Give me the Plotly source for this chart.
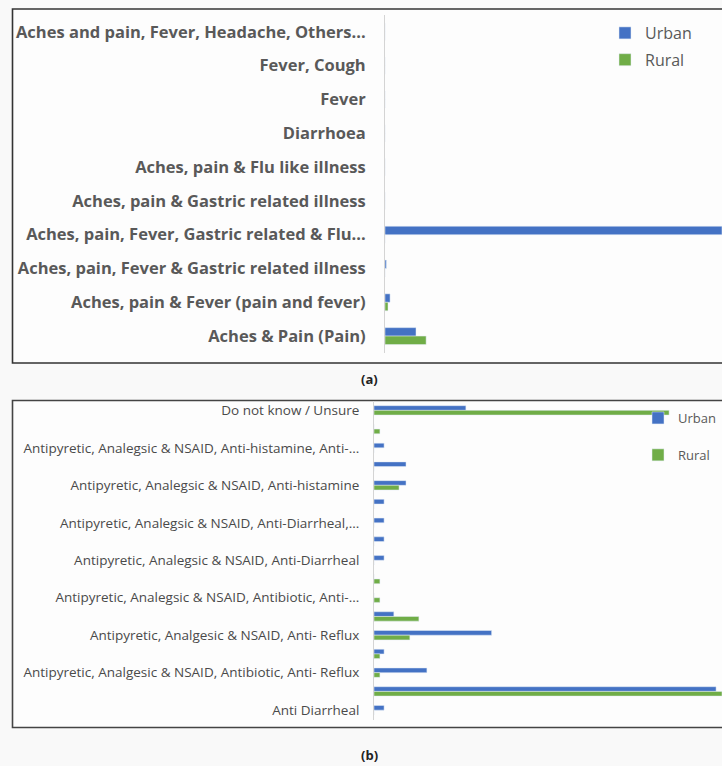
import plotly.graph_objects as go

# ---------------- Panel (a) data ----------------
a_categories = [
    "Aches and pain, Fever, Headache, Others...",
    "Fever, Cough",
    "Fever",
    "Diarrhoea",
    "Aches, pain & Flu like illness",
    "Aches, pain & Gastric related illness",
    "Aches, pain, Fever, Gastric related & Flu...",
    "Aches, pain, Fever & Gastric related illness",
    "Aches, pain & Fever (pain and fever)",
    "Aches & Pain (Pain)",
]
a_urban = [0, 0, 0, 0, 0, 0, 100, 0.4, 1.5, 9.2]
a_rural = [0, 0, 0, 0, 0, 0, 0, 0, 0.9, 12.2]

# ---------------- Panel (b) data ----------------
# Excel skipped every other category label; unreadable ones are None
b_categories = [
    "Do not know / Unsure",
    None,
    "Antipyretic, Analegsic & NSAID, Anti-histamine, Anti-...",
    None,
    "Antipyretic, Analegsic & NSAID, Anti-histamine",
    None,
    "Antipyretic, Analegsic & NSAID, Anti-Diarrheal,...",
    None,
    "Antipyretic, Analegsic & NSAID, Anti-Diarrheal",
    None,
    "Antipyretic, Analegsic & NSAID, Antibiotic, Anti-...",
    None,
    "Antipyretic, Analgesic & NSAID, Anti- Reflux",
    None,
    "Antipyretic, Analgesic & NSAID, Antibiotic, Anti- Reflux",
    None,
    "Anti Diarrheal",
]
b_urban = [26.4, 0, 2.9, 9.2, 9.2, 2.9, 2.9, 2.9, 2.9, 0, 0, 5.7, 33.8, 2.9, 15.2, 98.3, 2.9]
b_rural = [84.8, 1.7, 0, 0, 7.2, 0, 0, 0, 0, 1.7, 1.7, 12.9, 10.3, 1.7, 1.7, 100, 0]

series_names = ["Urban", "Rural"]
BLUE = "#4472C4"
GREEN = "#70AD47"

W, H = 722, 766

def px_x(x):
    return x / W

def px_y(y):
    return 1 - y / H

fig = go.Figure()

# Panel (a)
fig.add_trace(go.Bar(y=a_categories, x=a_urban, orientation="h", name=series_names[0],
                     marker_color=BLUE, xaxis="x", yaxis="y", legend="legend",
                     legendgroup="au"))
fig.add_trace(go.Bar(y=a_categories, x=a_rural, orientation="h", name=series_names[1],
                     marker_color=GREEN, xaxis="x", yaxis="y", legend="legend",
                     legendgroup="ar"))

# Panel (b)
b_pos = list(range(len(b_categories)))
fig.add_trace(go.Bar(y=b_pos, x=b_urban, orientation="h", name=series_names[0],
                     marker_color=BLUE, xaxis="x2", yaxis="y2", legend="legend2",
                     legendgroup="bu"))
fig.add_trace(go.Bar(y=b_pos, x=b_rural, orientation="h", name=series_names[1],
                     marker_color=GREEN, xaxis="x2", yaxis="y2", legend="legend2",
                     legendgroup="br"))

b_tickvals = [i for i, c in enumerate(b_categories) if c is not None]
b_ticktext = [c for c in b_categories if c is not None]

LABEL_A = dict(family="Open Sans", size=16.5, color="#595959", weight="bold")
LABEL_B = dict(family="Open Sans", size=13.5, color="#4a4a4a")

fig.update_layout(
    width=W, height=H,
    margin=dict(l=0, r=0, t=0, b=0, autoexpand=False),
    paper_bgcolor="#f9f9f9",
    plot_bgcolor="rgba(0,0,0,0)",
    barmode="group",
    bargap=0.5,
    bargroupgap=0,
    showlegend=True,
    xaxis=dict(domain=[px_x(385), 1.0], range=[0, 100], anchor="y",
               showgrid=False, zeroline=False, showticklabels=False, ticks=""),
    yaxis=dict(domain=[px_y(353), px_y(15)], anchor="x",
               type="category", categoryorder="array", categoryarray=a_categories,
               range=[9.5, -0.5], showgrid=False, zeroline=False,
               showline=True, linecolor="#d4d4d4", linewidth=1,
               ticks="", tickfont=LABEL_A, ticklabelstandoff=15, automargin=False),
    xaxis2=dict(domain=[px_x(374), 1.0], range=[0, 100], anchor="y2",
                showgrid=False, zeroline=False, showticklabels=False, ticks=""),
    yaxis2=dict(domain=[px_y(719.5), px_y(401)], anchor="x2",
                range=[16.5, -0.5], tickvals=b_tickvals, ticktext=b_ticktext,
                showgrid=False, zeroline=False,
                showline=True, linecolor="#d4d4d4", linewidth=1,
                ticks="", tickfont=LABEL_B, ticklabelstandoff=11, automargin=False),
    legend=dict(x=px_x(605), y=px_y(16), xanchor="left", yanchor="top",
                bgcolor="rgba(0,0,0,0)", tracegroupgap=3,
                font=dict(family="Open Sans", size=16, color="#595959")),
    legend2=dict(x=px_x(638), y=px_y(403), xanchor="left", yanchor="top",
                 bgcolor="rgba(0,0,0,0)", tracegroupgap=17,
                 font=dict(family="Open Sans", size=13, color="#595959")),
    shapes=[
        dict(type="rect", xref="paper", yref="paper",
             x0=px_x(12.5), x1=1.05, y0=px_y(363), y1=px_y(9),
             line=dict(color="#333333", width=1.6), fillcolor="rgba(255,255,255,0.6)",
             layer="below"),
        dict(type="rect", xref="paper", yref="paper",
             x0=px_x(12.5), x1=1.05, y0=px_y(727.5), y1=px_y(400.5),
             line=dict(color="#444444", width=1.6), fillcolor="rgba(255,255,255,0.6)",
             layer="below"),
    ],
    annotations=[
        dict(text="<b>(a)</b>", xref="paper", yref="paper", x=px_x(369), y=px_y(379),
             xanchor="center", yanchor="middle", showarrow=False,
             font=dict(family="Open Sans", size=13, color="#222222")),
        dict(text="<b>(b)</b>", xref="paper", yref="paper", x=px_x(369), y=px_y(755),
             xanchor="center", yanchor="middle", showarrow=False,
             font=dict(family="Open Sans", size=13, color="#222222")),
    ],
)

fig.write_html("out.html")
